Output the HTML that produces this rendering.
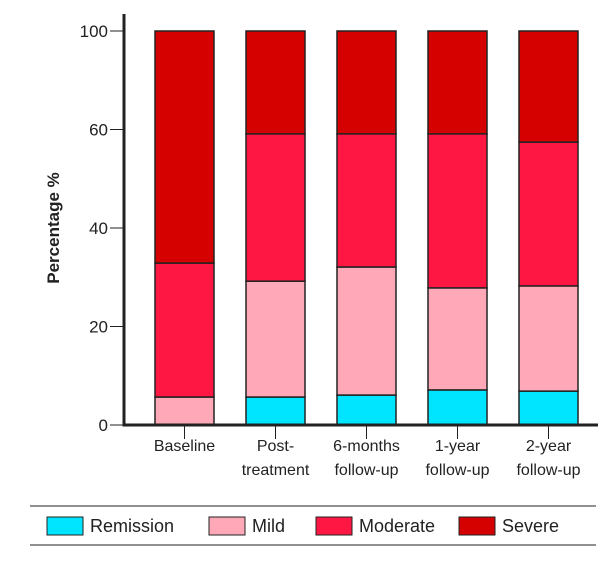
<!DOCTYPE html>
<html><head><meta charset="utf-8"><style>
body{margin:0;background:#fff;}
svg text{font-family:"Liberation Sans",sans-serif;fill:#222;}
</style></head><body>
<svg width="608" height="566">
<g id="bars"></g>
<g id="axes"></g>
<g id="legend"></g>
</svg>
<script>
const categories=[["Baseline"],["Post-","treatment"],["6-months","follow-up"],["1-year","follow-up"],["2-year","follow-up"]];
const remission=[0,7.1,7.6,8.9,8.6];
const mild=[7.1,29.4,32.5,25.9,26.7];
const moderate=[34.0,37.4,33.8,39.1,36.5];
const severe=[58.9,26.1,26.1,26.1,28.2];
const tickLabels=["0","20","40","60","100"];
const seriesNames=["Remission","Mild","Moderate","Severe"];
const colors=["#00e5ff","#ffa9b8","#ff1744","#d50000"];
const NS="http://www.w3.org/2000/svg";
const x0=124,yB=425,yT=31,x1=598;
const y=v=>yB-(v/100)*(yB-yT);
const xc=i=>184.5+i*91;
function mk(t,a,p){const e=document.createElementNS(NS,t);for(const k in a)e.setAttribute(k,a[k]);p.appendChild(e);return e;}
const bars=document.getElementById('bars'),axes=document.getElementById('axes'),leg=document.getElementById('legend');
const series=[remission,mild,moderate,severe];
categories.forEach((c,i)=>{let acc=0;
 series.forEach((s,j)=>{const v=s[i];if(v<=0){return;}
  const r=mk('rect',{x:xc(i)-29.5,y:y(acc+v),width:59,height:y(acc)-y(acc+v),fill:colors[j],stroke:'#222','stroke-width':1.5},bars);
  
  
  acc+=v;});
 const t=mk('line',{x1:xc(i),x2:xc(i),y1:yB,y2:yB+14,stroke:'#222','stroke-width':1},axes);
 c.forEach((l,k)=>{const tx=mk('text',{x:xc(i),y:yB+26+k*24,'text-anchor':'middle','font-size':16},axes);tx.textContent=l;
  });
});
tickLabels.forEach((l,i)=>{const yy=yB-i*(yB-yT)/(tickLabels.length-1);
 mk('line',{x1:x0-14,x2:x0,y1:yy,y2:yy,stroke:'#222','stroke-width':1},axes);
 const t=mk('text',{x:x0-16,y:yy+6,'text-anchor':'end','font-size':17},axes);t.textContent=l;
 });
mk('line',{x1:x0,x2:x0,y1:14,y2:yB+1.5,stroke:'#222','stroke-width':3},axes);
mk('line',{x1:x0-1.5,x2:x1,y1:yB,y2:yB,stroke:'#222','stroke-width':3},axes);
const yt=mk('text',{x:0,y:0,transform:'translate(59,228) rotate(-90)','text-anchor':'middle','font-size':17,'font-weight':'bold'},axes);
yt.textContent='Percentage %';

mk('line',{x1:30,x2:596,y1:506,y2:506,stroke:'#222','stroke-width':1},leg);
mk('line',{x1:30,x2:596,y1:545,y2:545,stroke:'#222','stroke-width':1},leg);
const lx=[47,209,316,459];
seriesNames.forEach((n,j)=>{
 const r=mk('rect',{x:lx[j],y:517,width:36,height:18,fill:colors[j],stroke:'#222','stroke-width':1},leg);
 
 const t=mk('text',{x:lx[j]+43,y:532,'font-size':18},leg);t.textContent=n;
 });
</script>
</body></html>
